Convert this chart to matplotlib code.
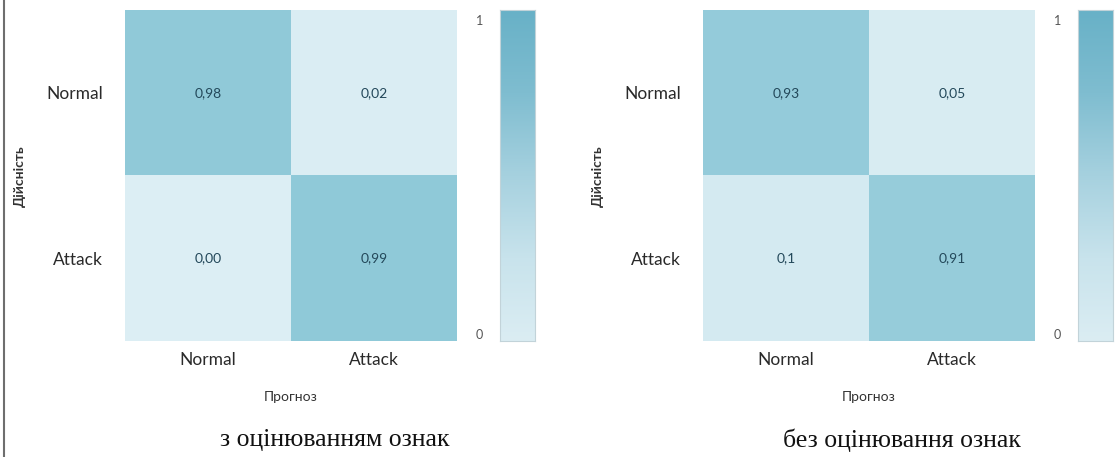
import numpy as np
import matplotlib
matplotlib.use("Agg")
import matplotlib.pyplot as plt
from matplotlib.colors import LinearSegmentedColormap
from matplotlib.lines import Line2D

# ---- data ----
classes = ["Normal", "Attack"]
cm_with_fs = [[0.98, 0.02],
              [0.00, 0.99]]
cm_without_fs = [[0.93, 0.05],
                 [0.10, 0.91]]
cell_text_with = [["0,98", "0,02"], ["0,00", "0,99"]]
cell_text_without = [["0,93", "0,05"], ["0,1", "0,91"]]
captions = ["з оцінюванням ознак", "без оцінювання ознак"]
xlabel = "Прогноз"
ylabel = "Дійсність"
cbar_ticks = [0, 1]

# ---- styling ----
W, H = 1118, 457
fig = plt.figure(figsize=(W / 100, H / 100), dpi=100)
fig.patch.set_facecolor("white")

cell_cmap = LinearSegmentedColormap.from_list(
    "cells", [(0.0, "#dceef4"), (0.5, "#b8dce7"), (1.0, "#8fc9d8")])
bar_cmap = LinearSegmentedColormap.from_list(
    "bar", [(0.0, "#dbedf3"), (0.25, "#c8e3ec"), (0.5, "#a6d1df"),
            (0.75, "#7fbdd0"), (1.0, "#68b1c7")])

label_font = "Lato"
text_color = "#2a2a2a"


def rect(x0, y0, x1, y1):
    """Pixel box (top-left origin) -> figure fraction rectangle."""
    return [x0 / W, 1 - y1 / H, (x1 - x0) / W, (y1 - y0) / H]


def draw_panel(dx, matrix, texts, caption, cap_x):
    ax = fig.add_axes(rect(125 + dx, 10, 457 + dx, 341))
    ax.imshow(np.array(matrix), cmap=cell_cmap, vmin=0, vmax=1,
              aspect="auto", interpolation="nearest")
    for i in range(2):
        for j in range(2):
            ax.text(j, i, texts[i][j], ha="center", va="center",
                    fontsize=10, color="#23485a", family=label_font)
    ax.set_xticks([0, 1], classes, fontsize=12.5, family=label_font,
                  color=text_color)
    ax.set_yticks([0, 1], classes, fontsize=12.5, family=label_font,
                  color=text_color)
    ax.tick_params(length=0)
    ax.tick_params(axis="x", pad=8)
    ax.tick_params(axis="y", pad=16)
    for s in ax.spines.values():
        s.set_visible(False)

    # axis titles
    fig.text((20 + dx) / W, 1 - 176 / H, ylabel, rotation=90, ha="center",
             va="center", fontsize=10, fontweight="bold",
             family=label_font, color="#333333")
    fig.text((291 + dx) / W, 1 - 397 / H, xlabel, ha="center", va="center",
             fontsize=10, family=label_font, color="#333333")

    # colour bar
    cax = fig.add_axes(rect(500 + dx, 10, 535 + dx, 341))
    grad = np.linspace(0, 1, 256).reshape(-1, 1)
    cax.imshow(grad, cmap=bar_cmap, aspect="auto", origin="lower",
               extent=[0, 1, -0.022, 1.032])
    cax.set_ylim(-0.022, 1.032)
    cax.set_xlim(0, 1)
    cax.set_xticks([])
    cax.yaxis.tick_left()
    cax.set_yticks(cbar_ticks, [str(t) for t in cbar_ticks], fontsize=9,
                   family=label_font, color="#555555")
    cax.tick_params(length=0, pad=12)
    for s in cax.spines.values():
        s.set_color("#c2d3d9")
        s.set_linewidth(0.8)

    fig.text(cap_x / W, 1 - 440 / H, caption, ha="center", va="center",
             fontsize=18.5, family="Liberation Serif", color="#111111")


draw_panel(0, cm_with_fs, cell_text_with, captions[0], 335)
draw_panel(578, cm_without_fs, cell_text_without, captions[1], 902)

# left frame line
fig.add_artist(Line2D([3.5 / W, 3.5 / W], [0, 1], color="#6e6e6e",
                      linewidth=1.5))

fig.savefig("out.png", dpi=100)
